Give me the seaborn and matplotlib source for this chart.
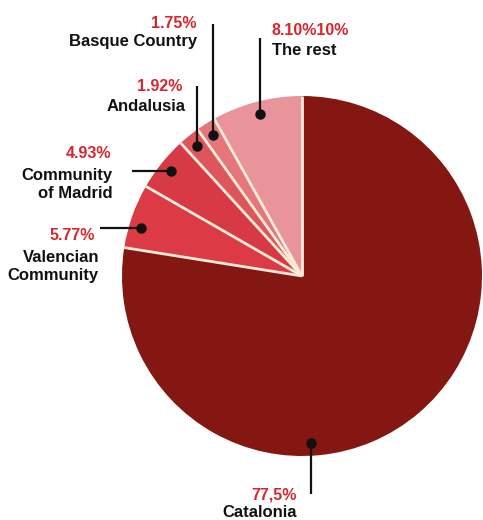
import matplotlib
matplotlib.use("Agg")
import matplotlib.pyplot as plt
import seaborn as sns
import numpy as np

# Regional shares, in drawing order (clockwise from 12 o'clock)
regions = ["Catalonia", "Valencian\nCommunity", "Community\nof Madrid",
           "Andalusia", "Basque Country", "The rest"]
shares = [77.5, 5.77, 4.93, 1.92, 1.75, 8.10]
share_labels = ["77,5%", "5.77%", "4.93%", "1.92%", "1.75%", "8.10%10%"]
slice_colors = ["#841711", "#dc3a44", "#d73a44", "#de565c", "#e5777c", "#e8949a"]

sns.set_theme(style="white")
plt.rcParams["font.family"] = ["Liberation Sans", "DejaVu Sans"]

W, H = 483, 520
fig = plt.figure(figsize=(W / 100, H / 100), dpi=100)
ax = fig.add_axes([0, 0, 1, 1])

CX, CY, R = 302, H - 276, 180
palette = sns.color_palette(slice_colors)
wedges, _ = ax.pie(shares, colors=palette, startangle=90, counterclock=False,
                   center=(CX, CY), radius=R,
                   wedgeprops=dict(linewidth=0, antialiased=True))
ax.set_xlim(0, W)
ax.set_ylim(0, H)
ax.set_aspect("equal")
ax.axis("off")

# cream separators along the slice boundaries only
SEP = "#f6ead9"
for w in wedges:
    a = np.deg2rad(w.theta1)
    ax.plot([CX, CX + R * np.cos(a)], [CY, CY + R * np.sin(a)],
            color=SEP, lw=2.0, solid_capstyle="butt", zorder=3)

RED = "#d8262f"
INK = "#111111"

# leader: ("v"/"h", end coordinate in px from top/left), percentage x, name x,
# align, baseline of percentage, baselines of name lines (px from top)
leaders = [
    ("v", 494, 297, 297, "right", 500, [517]),
    ("h", 100, 95, 99, "right", 240, [262, 280]),
    ("h", 132, 111, 113, "right", 158, [180, 198]),
    ("v", 86, 182, 186, "right", 91, [111]),
    ("v", 24, 197, 197, "right", 28, [46]),
    ("v", 38, 272, 272, "left", 35, [55]),
]
dot_angle_override = {0: 273.0, 1: 163.5}

for i, (w, (kind, end, px, nx, ha, pct_base, name_bases)) in enumerate(zip(wedges, leaders)):
    ang = dot_angle_override.get(i, (w.theta1 + w.theta2) / 2)
    a = np.deg2rad(ang)
    dx = CX + 0.93 * R * np.cos(a)
    dy = CY + 0.93 * R * np.sin(a)
    if kind == "v":
        ex, ey = dx, H - end
    else:
        ex, ey = end, dy
    ax.plot([dx, ex], [dy, ey], color=INK, lw=1.6, solid_capstyle="butt", zorder=5)
    ax.plot([dx], [dy], "o", color=INK, ms=6.5, zorder=6)

    ax.text(px, H - pct_base, share_labels[i], color=RED, fontsize=11.5,
            fontweight="bold", ha=ha, va="baseline")
    for line, base in zip(regions[i].split("\n"), name_bases):
        ax.text(nx, H - base, line, color=INK, fontsize=12,
                fontweight="bold", ha=ha, va="baseline")

fig.savefig("out.png", dpi=100, facecolor="white")
